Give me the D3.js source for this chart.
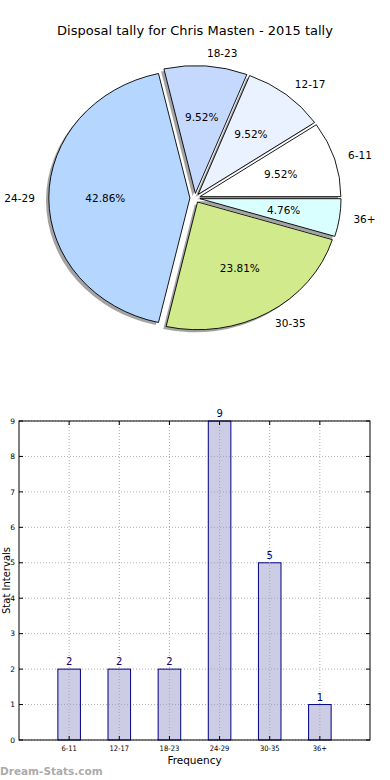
<!DOCTYPE html>
<html><head><meta charset="utf-8">
<script src="https://cdn.jsdelivr.net/npm/d3@7"></script>
<style>
html,body{margin:0;padding:0;background:#fff;}
svg{display:block;font-family:"DejaVu Sans",sans-serif;}
</style></head>
<body><svg id="c" width="390" height="780"></svg>
<script>
const title = "Disposal tally for Chris Masten - 2015 tally";
const categories = ["6-11","12-17","18-23","24-29","30-35","36+"];
const counts = [2,2,2,9,5,1];
const pieColors = ["#ffffff","#eaf1ff","#c5d9ff","#b5d6ff","#d0ea8c","#d9ffff"];
const yTicks = [0,1,2,3,4,5,6,7,8,9];
const xLabel = "Frequency";
const yLabel = "Stat Intervals";
const watermark = "Dream-Stats.com";

const svg = d3.select("#c");

svg.append("text").attr("x",195).attr("y",35).attr("text-anchor","middle")
  .attr("font-size",13).attr("fill","#000").text(title);

// ---- Pie ----
const cx = 195, cy = 198, sx = 141, sy = 127.7, ex = 0.036;
const total = d3.sum(counts);
const pie = d3.pie().sort(null).value(d=>d)
  .startAngle(Math.PI/2).endAngle(Math.PI/2 - 2*Math.PI);
const arcs = pie(counts);
const toMath = a => Math.PI/2 - a;
const arcGen = d3.arc().innerRadius(0).outerRadius(1);
const pieG = svg.append("g");

function wedgePos(d, dx, dy){
  const mid = toMath((d.startAngle + d.endAngle)/2);
  return {mid, ox: cx + sx*ex*Math.cos(mid) + dx, oy: cy - sy*ex*Math.sin(mid) + dy};
}
const norm = d => ({startAngle:Math.min(d.startAngle,d.endAngle), endAngle:Math.max(d.startAngle,d.endAngle)});
arcs.forEach((d,i)=>{
  const w = wedgePos(d, -2.8, 2.6);
  pieG.append("path")
    .attr("transform",`translate(${w.ox},${w.oy}) scale(${sx},${sy})`)
    .attr("d", arcGen(norm(d)))
    .attr("fill","#8c8c8c").attr("fill-opacity",0.8);
});
arcs.forEach((d,i)=>{
  const w = wedgePos(d, 0, 0);
  pieG.append("path")
    .attr("transform",`translate(${w.ox},${w.oy}) scale(${sx},${sy})`)
    .attr("d", arcGen(norm(d)))
    .attr("fill",pieColors[i]).attr("stroke","#000").attr("stroke-width",0.9)
    .attr("vector-effect","non-scaling-stroke");
});
arcs.forEach((d,i)=>{
  const w = wedgePos(d, 0, 0);
  const lx = w.ox + sx*1.1*Math.cos(w.mid), ly = w.oy - sy*1.1*Math.sin(w.mid);
  pieG.append("text").attr("x",lx).attr("y",ly).attr("dy","0.35em")
    .attr("text-anchor", Math.cos(w.mid) > 0 ? "start" : "end")
    .attr("font-size",10.5).text(categories[i]);
  const px = w.ox + sx*0.6*Math.cos(w.mid), py = w.oy - sy*0.6*Math.sin(w.mid);
  pieG.append("text").attr("x",px).attr("y",py).attr("dy","0.35em")
    .attr("text-anchor","middle").attr("font-size",10.5)
    .text((counts[i]/total*100).toFixed(2)+"%");
});

// ---- Bar chart ----
const L = 19, R = 370, T = 421, B = 740;
const x = d3.scaleLinear().domain([-1,6]).range([L,R]);
const y = d3.scaleLinear().domain([0,9]).range([B,T]);
const bw = x(0.45) - x(0);
const g = svg.append("g");

g.selectAll(".gy").data(yTicks).enter().append("line")
  .attr("x1",L).attr("x2",R).attr("y1",d=>y(d)).attr("y2",d=>y(d))
  .attr("stroke","#b0b0b0").attr("stroke-width",1).attr("stroke-dasharray","1,2");

g.selectAll(".bar").data(counts).enter().append("rect")
  .attr("x",(d,i)=>x(i)-bw/2).attr("width",bw)
  .attr("y",d=>y(d)).attr("height",d=>B-y(d))
  .attr("fill","rgba(153,153,204,0.5)").attr("stroke","#000080").attr("stroke-width",1);
g.selectAll(".gx").data(categories).enter().append("line")
  .attr("x1",(d,i)=>x(i)).attr("x2",(d,i)=>x(i)).attr("y1",T).attr("y2",B)
  .attr("stroke","#a8a8b8").attr("stroke-width",1).attr("stroke-dasharray","1,2");

g.selectAll(".vl").data(counts).enter().append("text")
  .attr("x",(d,i)=>x(i)).attr("y",d=>y(d)-4)
  .attr("text-anchor","middle").attr("font-size",10).attr("fill","#000080")
  .text(d=>d);

g.append("rect").attr("x",L).attr("y",T).attr("width",R-L).attr("height",B-T)
  .attr("fill","none").attr("stroke","#000").attr("stroke-width",1);

yTicks.forEach(t=>{
  g.append("line").attr("x1",L).attr("x2",L+4).attr("y1",y(t)).attr("y2",y(t)).attr("stroke","#000");
  g.append("line").attr("x1",R-4).attr("x2",R).attr("y1",y(t)).attr("y2",y(t)).attr("stroke","#000");
  g.append("text").attr("x",L-4).attr("y",y(t)).attr("dy","0.35em").attr("text-anchor","end")
    .attr("font-size",7.5).attr("fill","#000").text(t);
});
categories.forEach((c,i)=>{
  g.append("line").attr("x1",x(i)).attr("x2",x(i)).attr("y1",B).attr("y2",B-4).attr("stroke","#000");
  g.append("line").attr("x1",x(i)).attr("x2",x(i)).attr("y1",T).attr("y2",T+4).attr("stroke","#000");
  g.append("text").attr("x",x(i)).attr("y",B+11).attr("text-anchor","middle")
    .attr("font-size",7.5).attr("font-family","'Liberation Sans Narrow','DejaVu Sans Condensed',sans-serif")
    .attr("fill","#000").text(c);
});

svg.append("text").attr("x",(L+R)/2).attr("y",764).attr("text-anchor","middle")
  .attr("font-size",10.5).text(xLabel);
svg.append("text").attr("transform",`translate(10,${(T+B)/2}) rotate(-90)`)
  .attr("text-anchor","middle").attr("font-size",10).text(yLabel);

svg.append("text").attr("x",0).attr("y",775).attr("font-size",10.5).attr("font-weight","bold")
  .attr("fill","#a0a0a0").attr("fill-opacity",0.9).text(watermark);
</script></body></html>
